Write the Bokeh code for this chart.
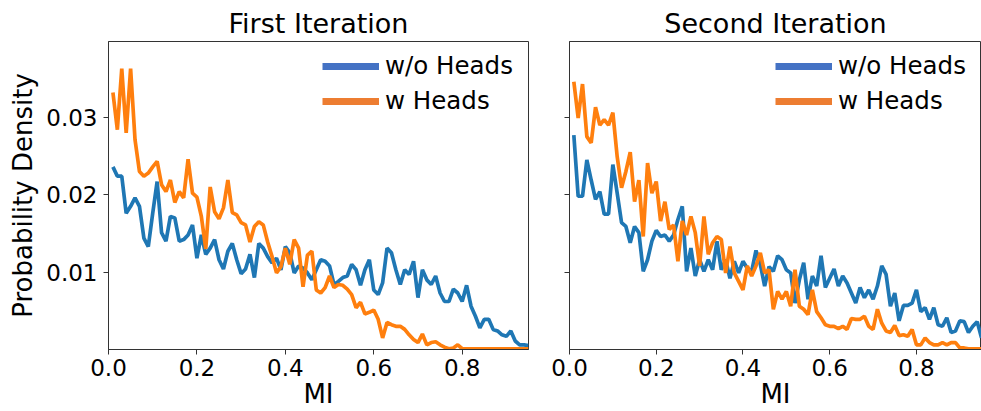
from bokeh.plotting import figure
from bokeh.layouts import row
from bokeh.models import Range1d, FixedTicker, Legend, LegendItem, PrintfTickFormatter
from bokeh.embed import file_html
from bokeh.resources import INLINE

# MI bin positions (0.01 .. 0.95)
mi = [i / 100 for i in range(1, 96)]

first_wo_heads = [
    0.0236, 0.0224, 0.0224, 0.0176, 0.0185, 0.0196, 0.0185, 0.0144, 0.0133, 0.0176,
    0.0217, 0.0151, 0.0140, 0.0172, 0.0170, 0.0140, 0.0142, 0.0148, 0.0161, 0.0118,
    0.0148, 0.0123, 0.0131, 0.0142, 0.0116, 0.0104, 0.0127, 0.0137, 0.0116, 0.0098,
    0.0104, 0.0123, 0.0093, 0.0137, 0.0131, 0.0120, 0.0112, 0.0118, 0.0103, 0.0133,
    0.0125, 0.0099, 0.0108, 0.0105, 0.0099, 0.0090, 0.0103, 0.0116, 0.0114, 0.0108,
    0.0084, 0.0088, 0.0093, 0.0095, 0.0110, 0.0103, 0.0083, 0.0103, 0.0116, 0.0077,
    0.0071, 0.0086, 0.0131, 0.0125, 0.0103, 0.0084, 0.0103, 0.0097, 0.0114, 0.0067,
    0.0103, 0.0090, 0.0084, 0.0095, 0.0073, 0.0062, 0.0062, 0.0078, 0.0073, 0.0062,
    0.0083, 0.0056, 0.0043, 0.0028, 0.0039, 0.0039, 0.0026, 0.0024, 0.0019, 0.0017,
    0.0024, 0.0011, 0.0006, 0.0006, 0.0005,
]
first_w_heads = [
    0.0332, 0.0284, 0.0363, 0.0280, 0.0363, 0.0271, 0.0230, 0.0224, 0.0228, 0.0236,
    0.0243, 0.0213, 0.0204, 0.0219, 0.0190, 0.0204, 0.0196, 0.0246, 0.0202, 0.0197,
    0.0172, 0.0130, 0.0210, 0.0178, 0.0169, 0.0183, 0.0219, 0.0177, 0.0174, 0.0164,
    0.0161, 0.0139, 0.0159, 0.0165, 0.0161, 0.0139, 0.0120, 0.0099, 0.0107, 0.0131,
    0.0110, 0.0142, 0.0131, 0.0081, 0.0122, 0.0127, 0.0077, 0.0073, 0.0080, 0.0095,
    0.0080, 0.0084, 0.0083, 0.0078, 0.0071, 0.0054, 0.0061, 0.0046, 0.0048, 0.0051,
    0.0039, 0.0015, 0.0035, 0.0032, 0.0030, 0.0030, 0.0026, 0.0019, 0.0013, 0.0009,
    0.0020, 0.0006, 0.0009, 0.0010, 0.0006, 0.0003, 0.0001, 0.0002, 0.0006, 0.0001,
    0.0001, 0.0001, 0.0001, 0.0001, 0.0001, 0.0001, 0.0001, 0.0001, 0.0001, 0.0001,
    0.0001, 0.0001, 0.0001, 0.0001, 0.0001,
]
second_wo_heads = [
    0.0277, 0.0198, 0.0198, 0.0245, 0.0219, 0.0194, 0.0204, 0.0175, 0.0175, 0.0239,
    0.0202, 0.0164, 0.0159, 0.0138, 0.0159, 0.0151, 0.0101, 0.0116, 0.0140, 0.0154,
    0.0146, 0.0148, 0.0140, 0.0148, 0.0168, 0.0185, 0.0101, 0.0131, 0.0095, 0.0116,
    0.0101, 0.0116, 0.0103, 0.0140, 0.0103, 0.0116, 0.0092, 0.0114, 0.0099, 0.0114,
    0.0105, 0.0101, 0.0128, 0.0110, 0.0082, 0.0107, 0.0101, 0.0121, 0.0116, 0.0103,
    0.0099, 0.0060, 0.0090, 0.0112, 0.0065, 0.0095, 0.0082, 0.0121, 0.0080, 0.0092,
    0.0104, 0.0082, 0.0095, 0.0086, 0.0073, 0.0060, 0.0080, 0.0067, 0.0077, 0.0065,
    0.0082, 0.0108, 0.0097, 0.0056, 0.0073, 0.0037, 0.0057, 0.0057, 0.0060, 0.0077,
    0.0049, 0.0054, 0.0039, 0.0054, 0.0032, 0.0030, 0.0041, 0.0022, 0.0024, 0.0037,
    0.0036, 0.0022, 0.0030, 0.0036, 0.0015,
]
second_w_heads = [
    0.0346, 0.0299, 0.0343, 0.0275, 0.0267, 0.0313, 0.0290, 0.0297, 0.0290, 0.0306,
    0.0249, 0.0209, 0.0230, 0.0255, 0.0191, 0.0219, 0.0146, 0.0241, 0.0202, 0.0217,
    0.0166, 0.0191, 0.0155, 0.0161, 0.0114, 0.0166, 0.0148, 0.0172, 0.0151, 0.0108,
    0.0172, 0.0123, 0.0138, 0.0146, 0.0142, 0.0099, 0.0133, 0.0099, 0.0088, 0.0077,
    0.0108, 0.0095, 0.0108, 0.0125, 0.0099, 0.0103, 0.0052, 0.0075, 0.0065, 0.0075,
    0.0056, 0.0103, 0.0056, 0.0052, 0.0045, 0.0077, 0.0049, 0.0041, 0.0032, 0.0030,
    0.0030, 0.0027, 0.0030, 0.0026, 0.0040, 0.0039, 0.0039, 0.0043, 0.0030, 0.0026,
    0.0052, 0.0034, 0.0024, 0.0022, 0.0031, 0.0018, 0.0019, 0.0017, 0.0026, 0.0006,
    0.0006, 0.0015, 0.0009, 0.0006, 0.0006, 0.0009, 0.0006, 0.0009, 0.0009, 0.0002,
    0.0002, 0.0001, 0.0001, 0.0001, 0.0001,
]

x_ticks = [0.0, 0.2, 0.4, 0.6, 0.8]
y_ticks = [0.01, 0.02, 0.03]
titles = ["First Iteration", "Second Iteration"]
labels = ["w/o Heads", "w Heads"]

FONT = "DejaVu Sans"
BLUE, ORANGE = "#1f77b4", "#ff7f0e"
LEG_BLUE, LEG_ORANGE = "#4472C4", "#ED7D31"
NAN = float("nan")


def make_panel(title, wo, w, first):
    width = 548 if first else 433
    p = figure(
        width=width, height=411, output_backend="svg", toolbar_location=None,
        x_range=Range1d(0, 0.95), y_range=Range1d(0, 0.0398),
        min_border_left=108 if first else 21, min_border_right=20 if first else 0,
        min_border_top=41, min_border_bottom=61,
    )
    p.title.text = title
    p.title.align = "center"
    p.title.text_font = FONT
    p.title.text_font_size = "27px"
    p.title.text_font_style = "normal"
    p.title.text_color = "black"
    p.title.standoff = 6

    p.line(mi, wo, color=BLUE, line_width=3.7)
    p.line(mi, w, color=ORANGE, line_width=3.7)

    # legend-only renderers (single NaN point: nothing is drawn in the plot area)
    rb = p.line([NAN], [NAN], color=LEG_BLUE, line_width=7)
    ro = p.line([NAN], [NAN], color=LEG_ORANGE, line_width=7)
    leg = Legend(
        items=[LegendItem(label=labels[0], renderers=[rb]),
               LegendItem(label=labels[1], renderers=[ro])],
        location="top_right", glyph_width=57, glyph_height=20, label_height=20,
        label_width=133,
        label_standoff=6, spacing=6, padding=10, margin=0,
        border_line_alpha=0, background_fill_alpha=0,
        label_text_font=FONT, label_text_font_size="24.5px", label_text_color="black",
    )
    p.add_layout(leg)

    p.xgrid.visible = False
    p.ygrid.visible = False
    p.outline_line_color = "#333333"
    p.outline_line_width = 1
    p.background_fill_color = "white"
    p.border_fill_color = "white"

    for ax in (p.xaxis[0], p.yaxis[0]):
        ax.axis_line_color = "#333333"
        ax.major_tick_line_color = "#333333"
        ax.major_tick_out = 5
        ax.major_tick_in = 0
        ax.minor_tick_out = 0
        ax.minor_tick_in = 0
        ax.major_label_text_font = FONT
        ax.major_label_text_font_size = "23px"
        ax.major_label_text_color = "black"
        ax.axis_label_text_font = FONT
        ax.axis_label_text_font_size = "26px"
        ax.axis_label_text_font_style = "normal"
        ax.axis_label_text_color = "black"

    p.xaxis.ticker = FixedTicker(ticks=x_ticks)
    p.xaxis.formatter = PrintfTickFormatter(format="%.1f")
    p.xaxis.major_label_standoff = 4
    p.xaxis.axis_label = "MI"
    p.xaxis.axis_label_standoff = 0

    p.yaxis.ticker = FixedTicker(ticks=y_ticks)
    p.yaxis.formatter = PrintfTickFormatter(format="%.2f")
    if first:
        p.yaxis.axis_label = "Probability Density"
        p.yaxis.major_label_standoff = 6
        p.yaxis.axis_label_standoff = 5
    else:
        p.yaxis.major_label_overrides = {t: "" for t in y_ticks}
        p.yaxis.major_label_standoff = 0
    return p


p1 = make_panel(titles[0], first_wo_heads, first_w_heads, True)
p2 = make_panel(titles[1], second_wo_heads, second_w_heads, False)
layout = row(p1, p2, spacing=0)

open("out.html", "w").write(file_html(layout, INLINE))
